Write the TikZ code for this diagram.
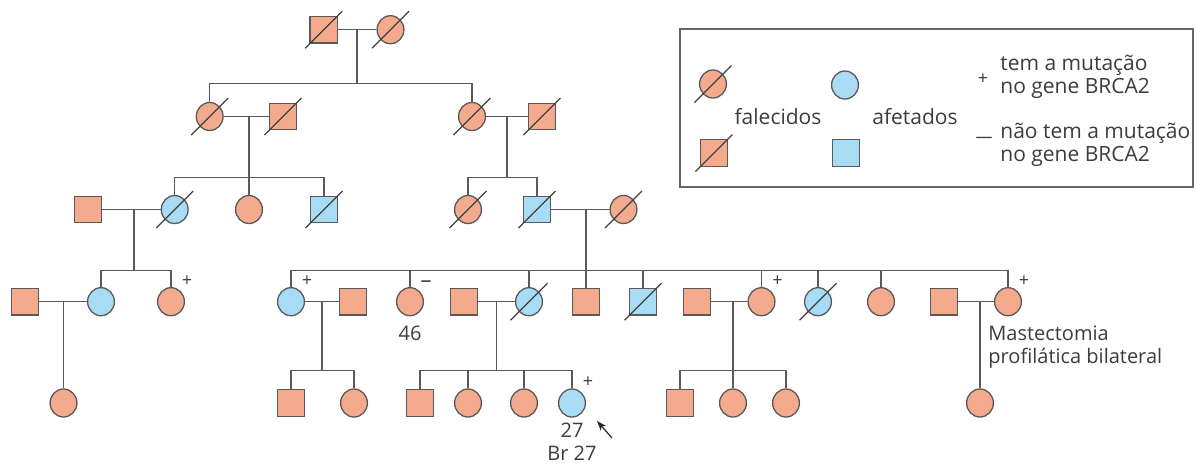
\documentclass[tikz,border=0pt]{standalone}
\usepackage{fontspec}
\setmainfont{Open Sans}
\usetikzlibrary{shapes.geometric,arrows.meta,positioning}
\definecolor{salmao}{RGB}{244,170,140}
\definecolor{azul}{RGB}{168,220,244}
\definecolor{linha}{RGB}{90,90,90}
\definecolor{texto}{RGB}{60,60,60}
\begin{document}
\begin{tikzpicture}[
x=0.5pt, y=-0.5pt,
homem/.style={rectangle, draw=black!65, fill=salmao, line width=0.65pt, minimum width=13.6pt, minimum height=13.3pt, inner sep=0pt},
mulher/.style={ellipse, draw=black!65, fill=salmao, line width=0.65pt, minimum width=13.4pt, minimum height=14pt, inner sep=0pt},
afetado/.style={fill=azul},
obito/.style={draw=black!75, line width=0.6pt},
falecido/.style={append after command={([shift={(-9.25pt,-9.25pt)}]\tikzlastnode.center) edge[obito] ([shift={(9.25pt,9.25pt)}]\tikzlastnode.center)}},
liga/.style={draw=linha, line width=0.7pt},
sinal/.style={font=\fontsize{9pt}{9pt}\selectfont, text=texto, inner sep=0pt, xshift=8pt, yshift=0.2pt},
portador/.style={label={[sinal]90:+}},
naoportador/.style={label={[sinal, font=\fontsize{11pt}{11pt}\selectfont, yshift=-0.5pt]90:–}},
rotulo/.style={font=\fontsize{10pt}{11.5pt}\selectfont, text=texto, inner sep=0pt, align=left},
legenda/.style={font=\fontsize{10.5pt}{11.5pt}\selectfont, text=texto, inner sep=0pt, align=left},
seta/.style={-{Stealth[length=5pt,width=3.6pt]}, draw=black!85, line width=0.6pt},
label distance=0pt
]
\useasboundingbox (0,0) rectangle (1196,463);

\node (I1) [homem, falecido] at (323.7,29.7) {};
\node (I2) [mulher, falecido] at (390.5,29.7) {};

\node (II1) [mulher, falecido] at (209.7,116.5) {};
\node (II2) [homem, falecido] at (283,116.5) {};
\node (II3) [mulher, falecido] at (472,116.5) {};
\node (II4) [homem, falecido] at (542,116.5) {};

\node (III1) [homem] at (88,209.5) {};
\node (III2) [mulher, afetado, falecido] at (174.7,209.5) {};
\node (III3) [mulher] at (249,209.5) {};
\node (III4) [homem, afetado, falecido] at (324,209.5) {};
\node (III5) [mulher, falecido] at (468,209.5) {};
\node (III6) [homem, afetado, falecido] at (537,209.5) {};
\node (III7) [mulher, falecido] at (623.5,209.5) {};

\node (IV1) [homem] at (25,301.7) {};
\node (IV2) [mulher, afetado] at (101,301.7) {};
\node (IV3) [mulher, portador] at (171,301.7) {};
\node (IV4) [mulher, afetado, portador] at (291,301.7) {};
\node (IV5) [homem] at (353,301.7) {};
\node (IV6) [mulher, naoportador] at (410,301.7) {};
\node (IV7) [homem] at (464,301.7) {};
\node (IV8) [mulher, afetado, falecido] at (529,301.7) {};
\node (IV9) [homem] at (586,301.7) {};
\node (IV10) [homem, afetado, falecido] at (643,301.7) {};
\node (IV11) [homem] at (697,301.7) {};
\node (IV12) [mulher, portador] at (761.5,301.7) {};
\node (IV13) [mulher, afetado, falecido] at (818,301.7) {};
\node (IV14) [mulher] at (881,301.7) {};
\node (IV15) [homem] at (944,301.7) {};
\node (IV16) [mulher, portador] at (1008,301.7) {};

\node (V1) [mulher] at (63.5,403) {};
\node (V2) [homem] at (291,403) {};
\node (V3) [mulher] at (354,403) {};
\node (V4) [homem] at (420,403) {};
\node (V5) [mulher] at (468,403) {};
\node (V6) [mulher] at (524,403) {};
\node (V7) [mulher, afetado, portador] at (572,403) {};
\node (V8) [homem] at (680,403) {};
\node (V9) [mulher] at (733,403) {};
\node (V10) [mulher] at (786,403) {};
\node (V11) [mulher] at (980,403) {};

\node (idade46) [rotulo, below=4.5pt of IV6] {46};
\node (probando) [rotulo, align=center, below=2.5pt of V7] {27\\Br 27};
\node (mastectomia) [rotulo, anchor=west] at (988,347.5) {Mastectomia\\profilática bilateral};

\coordinate (b1) at (357,83.3);
\coordinate (b2) at (249,177.3);
\coordinate (b3) at (507,177.3);
\coordinate (b4) at (134,270.7);
\coordinate (b5) at (586,270.7);
\coordinate (b6) at (322,370.7);
\coordinate (b7) at (496.5,370.7);
\coordinate (b8) at (733,370.7);
\coordinate (cauda) at (612,438);
\coordinate (ponta) at (597,421);

\draw[liga] (I1) -- (I2);
\draw[liga] (b1 |- I1) -- (b1);
\draw[liga] (II1.north) |- (b1) -| (II3.north);

\draw[liga] (II1) -- (II2);
\draw[liga] (b2 |- II1) -- (III3.north);
\draw[liga] (III2.north) |- (b2) -| (III4.north);
\draw[liga] (II3) -- (II4);
\draw[liga] (b3 |- II3) -- (b3);
\draw[liga] (III5.north) |- (b3) -| (III6.north);

\draw[liga] (III1) -- (III2);
\draw[liga] (b4 |- III1) -- (b4);
\draw[liga] (IV2.north) |- (b4) -| (IV3.north);
\draw[liga] (III6) -- (III7);
\draw[liga] (b5 |- III6) -- (IV9.north);
\draw[liga] (IV4.north) |- (b5) -| (IV16.north);
\foreach \n in {IV6,IV8,IV10,IV12,IV13,IV14}
  \draw[liga] (\n.north) -- (\n.north |- b5);

\draw[liga] (IV1) -- (IV2);
\draw[liga] (V1.north |- IV1) -- (V1.north);
\draw[liga] (IV4) -- (IV5);
\draw[liga] (b6 |- IV4) -- (b6);
\draw[liga] (V2.north) |- (b6) -| (V3.north);
\draw[liga] (IV7) -- (IV8);
\draw[liga] (b7 |- IV7) -- (b7);
\draw[liga] (V4.north) |- (b7) -| (V7.north);
\draw[liga] (V5.north) -- (V5.north |- b7);
\draw[liga] (V6.north) -- (V6.north |- b7);
\draw[liga] (IV11) -- (IV12);
\draw[liga] (b8 |- IV11) -- (V9.north);
\draw[liga] (V8.north) |- (b8) -| (V10.north);
\draw[liga] (IV15) -- (IV16);
\draw[liga] (V11.north |- IV15) -- (V11.north);

\draw[seta] (cauda) -- (ponta);

\draw[draw=black!60, line width=0.7pt] (680,29) rectangle (1193,187);
\node (Lf) [mulher, falecido] at (713,84) {};
\node (Lh) [homem, falecido] at (714,153) {};
\node (La) [mulher, afetado] at (845,85) {};
\node (Lb) [homem, afetado] at (846,153) {};
\node (falecidos) [legenda] at (778,117) {falecidos};
\node (afetados) [legenda] at (915,117) {afetados};
\node (mais) [legenda, font=\fontsize{9pt}{9pt}\selectfont] at (983,79) {+};
\node (menos) [legenda, font=\fontsize{8.5pt}{8.5pt}\selectfont] at (984,140) {—};
\node (tem) [legenda, anchor=west] at (1000,76.5) {tem a mutação\\no gene BRCA2};
\node (naotem) [legenda, anchor=west] at (1000,145) {não tem a mutação\\no gene BRCA2};
\end{tikzpicture}
\end{document}
